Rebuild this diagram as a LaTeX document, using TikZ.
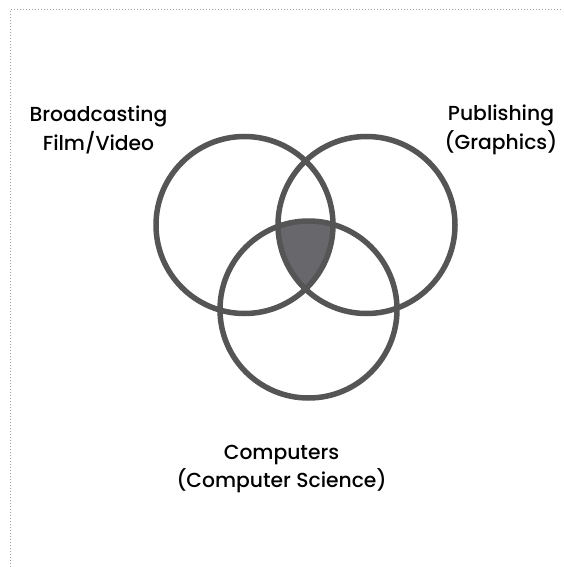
\documentclass[tikz,border=0pt]{standalone}
\usepackage{fontspec}
\setmainfont{Poppins}[UprightFont=* Medium]
\begin{document}
\begin{tikzpicture}[x=1pt,y=-1pt,
  ring/.style={draw=ringgray,line width=5.5pt},
  label/.style={align=center,font=\fontsize{20.3}{28.5}\selectfont,text=black,inner sep=0pt}]
\definecolor{ringgray}{HTML}{555555}
\definecolor{coregray}{HTML}{67676C}
\definecolor{framegray}{HTML}{A0A0A0}
\useasboundingbox (0,0) rectangle (563,567);
% dotted frame, open at the right and bottom edges
\draw[framegray,line width=1pt,dash pattern=on 1pt off 2pt] (10,567) -- (10,10) -- (563,10);
% circle centres
\coordinate (cL) at (244.5,225);
\coordinate (cR) at (366.5,225);
\coordinate (cB) at (308.5,309.5);
% shared core of all three sets
\begin{scope}
  \clip (cL) circle[radius=88.5];
  \clip (cR) circle[radius=88.5];
  \fill[coregray] (cB) circle[radius=88.5];
\end{scope}
\draw[ring] (cL) circle[radius=88.5];
\draw[ring] (cR) circle[radius=88.5];
\draw[ring] (cB) circle[radius=88.5];
% set labels
\node[label] (broad) at (98.5,130) {Broadcasting\\Film/Video};
\node[label] (pub) at (501,130) {Publishing\\(Graphics)};
\node[label] (comp) at (281.5,469) {Computers\\(Computer Science)};
\end{tikzpicture}
\end{document}
